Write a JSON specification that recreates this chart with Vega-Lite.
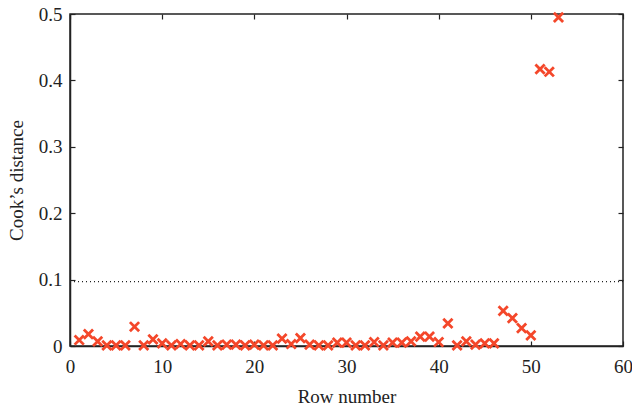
{
  "$schema": "https://vega.github.io/schema/vega-lite/v6.json",
  "width": 553,
  "height": 332,
  "autosize": {"type": "none"},
  "padding": {"left": 70, "top": 14, "right": 9, "bottom": 61},
  "background": "white",
  "config": {
    "view": {"stroke": "#222", "strokeWidth": 1.5},
    "axis": {
      "grid": false,
      "labelFlush": false,
      "domainColor": "#222",
      "domainWidth": 1.5,
      "tickColor": "#222",
      "tickWidth": 1.2,
      "tickSize": -5,
      "labelFont": "Liberation Serif",
      "labelFontSize": 19,
      "labelColor": "#222",
      "titleFont": "Liberation Serif",
      "titleFontSize": 19,
      "titleFontWeight": "normal",
      "titleColor": "#222"
    }
  },
  "datasets": {
    "cook": [
      {"row": 1, "d": 0.009}, {"row": 2, "d": 0.018}, {"row": 3, "d": 0.007},
      {"row": 4, "d": 0.001}, {"row": 5, "d": 0.001}, {"row": 6, "d": 0.001},
      {"row": 7, "d": 0.029}, {"row": 8, "d": 0.001}, {"row": 9, "d": 0.010},
      {"row": 10, "d": 0.004}, {"row": 11, "d": 0.001}, {"row": 12, "d": 0.003},
      {"row": 13, "d": 0.001}, {"row": 14, "d": 0.001}, {"row": 15, "d": 0.007},
      {"row": 16, "d": 0.001}, {"row": 17, "d": 0.002}, {"row": 18, "d": 0.002},
      {"row": 19, "d": 0.001}, {"row": 20, "d": 0.002}, {"row": 21, "d": 0.001},
      {"row": 22, "d": 0.001}, {"row": 23, "d": 0.011}, {"row": 24, "d": 0.003},
      {"row": 25, "d": 0.012}, {"row": 26, "d": 0.002}, {"row": 27, "d": 0.001},
      {"row": 28, "d": 0.001}, {"row": 29, "d": 0.005}, {"row": 30, "d": 0.005},
      {"row": 31, "d": 0.001}, {"row": 32, "d": 0.001}, {"row": 33, "d": 0.006},
      {"row": 34, "d": 0.001}, {"row": 35, "d": 0.005}, {"row": 36, "d": 0.005},
      {"row": 37, "d": 0.007}, {"row": 38, "d": 0.014}, {"row": 39, "d": 0.014},
      {"row": 40, "d": 0.006}, {"row": 41, "d": 0.034}, {"row": 42, "d": 0.001},
      {"row": 43, "d": 0.007}, {"row": 44, "d": 0.002}, {"row": 45, "d": 0.004},
      {"row": 46, "d": 0.004}, {"row": 47, "d": 0.053}, {"row": 48, "d": 0.042},
      {"row": 49, "d": 0.027}, {"row": 50, "d": 0.016}, {"row": 51, "d": 0.417},
      {"row": 52, "d": 0.413}, {"row": 53, "d": 0.495}
    ],
    "cut": [{"from": 0, "to": 60, "d": 0.097}]
  },
  "layer": [
    {
      "data": {"name": "cut"},
      "mark": {"type": "rule", "color": "#222", "strokeDash": [1, 3], "strokeWidth": 1.2},
      "encoding": {
        "x": {"field": "from", "type": "quantitative", "scale": {"domain": [0, 60], "nice": false},
          "axis": {"orient": "top", "labels": false, "domain": false, "title": null, "values": [0, 10, 20, 30, 40, 50, 60]}},
        "x2": {"field": "to"},
        "y": {"field": "d", "type": "quantitative", "scale": {"domain": [0, 0.5], "nice": false},
          "axis": {"orient": "right", "labels": false, "domain": false, "title": null, "values": [0, 0.1, 0.2, 0.3, 0.4, 0.5]}}
      }
    },
    {
      "data": {"name": "cook"},
      "mark": {"type": "point", "shape": "M-1,-1L1,1M1,-1L-1,1", "filled": false, "stroke": "#F4472A", "strokeWidth": 2.8, "size": 85, "opacity": 1},
      "encoding": {
        "x": {"field": "row", "type": "quantitative",
          "axis": {"title": "Row number", "values": [0, 10, 20, 30, 40, 50, 60], "labelPadding": 16, "titlePadding": 11}},
        "y": {"field": "d", "type": "quantitative",
          "axis": {"title": "Cook\u2019s distance", "values": [0, 0.1, 0.2, 0.3, 0.4, 0.5], "format": "~g", "labelPadding": 13, "titlePadding": 12}}
      }
    }
  ],
  "resolve": {"axis": {"x": "independent", "y": "independent"}}
}
